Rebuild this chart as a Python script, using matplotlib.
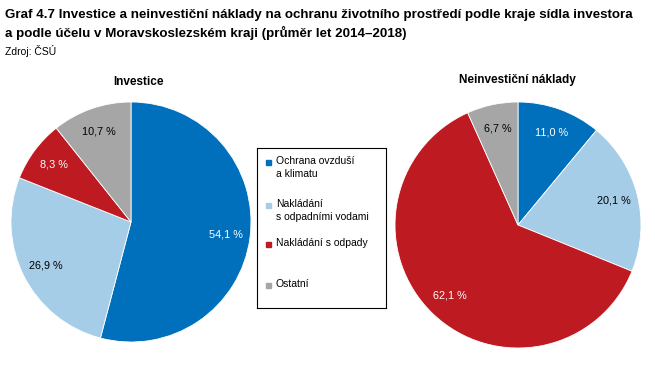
import matplotlib
matplotlib.use("Agg")
import matplotlib.pyplot as plt

plt.rcParams['font.family'] = ['Liberation Sans', 'DejaVu Sans']

categories = ["Ochrana ovzduší\na klimatu", "Nakládání\ns odpadními vodami",
              "Nakládání s odpady", "Ostatní"]
colors = ["#0070BD", "#A6CDE8", "#BE1A22", "#A6A6A6"]
label_colors = ["white", "black", "white", "black"]

investice = [54.1, 26.9, 8.3, 10.7]
neinvesticni = [11.0, 20.1, 62.1, 6.7]

W, H = 655, 385
fig = plt.figure(figsize=(W / 100, H / 100), dpi=100)


def px_axes(x0, y0, x1, y1):
    # pixel box (top-left origin) -> figure axes
    return fig.add_axes([x0 / W, 1 - y1 / H, (x1 - x0) / W, (y1 - y0) / H])


def draw_pie(ax, vals):
    wedges, texts, autotexts = ax.pie(
        vals, colors=colors, startangle=90, counterclock=False,
        autopct="%.1f", pctdistance=0.8, radius=1.0,
        wedgeprops=dict(linewidth=0.6, edgecolor="white"),
        textprops=dict(fontsize=7.8))
    for t, c, v in zip(autotexts, label_colors, vals):
        t.set_color(c)
        t.set_text(("%.1f %%" % v).replace(".", ","))
    ax.set_xlim(-1, 1)
    ax.set_ylim(-1, 1)
    ax.set_aspect("equal")


ax1 = px_axes(11, 102, 251, 342)
draw_pie(ax1, investice)
ax2 = px_axes(395, 102, 641, 348)
draw_pie(ax2, neinvesticni)

fig.text(138 / W, 1 - 82 / H, "Investice", ha="center", va="center",
         fontsize=8.5, fontweight="bold")
fig.text(517 / W, 1 - 80 / H, "Neinvestiční náklady", ha="center", va="center",
         fontsize=8.5, fontweight="bold")

# title block
fig.text(5 / W, 1 - 15 / H,
         "Graf 4.7 Investice a neinvestiční náklady na ochranu životního prostředí podle kraje sídla investora",
         ha="left", va="center", fontsize=9.6, fontweight="bold")
fig.text(5 / W, 1 - 33 / H,
         "a podle účelu v Moravskoslezském kraji (průměr let 2014–2018)",
         ha="left", va="center", fontsize=9.6, fontweight="bold")
fig.text(5 / W, 1 - 51 / H, "Zdroj: ČSÚ", ha="left", va="center", fontsize=7.5)

# legend box
lax = px_axes(257, 148, 386, 308)
lax.set_xlim(0, 129)
lax.set_ylim(160, 0)
lax.set_xticks([])
lax.set_yticks([])
for s in lax.spines.values():
    s.set_linewidth(0.8)
    s.set_color("black")
entry_y = [14, 57, 96, 137]   # y of first text line inside the box
for cat, col, y in zip(categories, colors, entry_y):
    lax.add_patch(plt.Rectangle((9, y - 2.5), 5, 5, color=col))
    lax.text(19, y - 6, cat, ha="left", va="top", fontsize=7.5,
             linespacing=1.4)

fig.savefig("out.png", dpi=100)
